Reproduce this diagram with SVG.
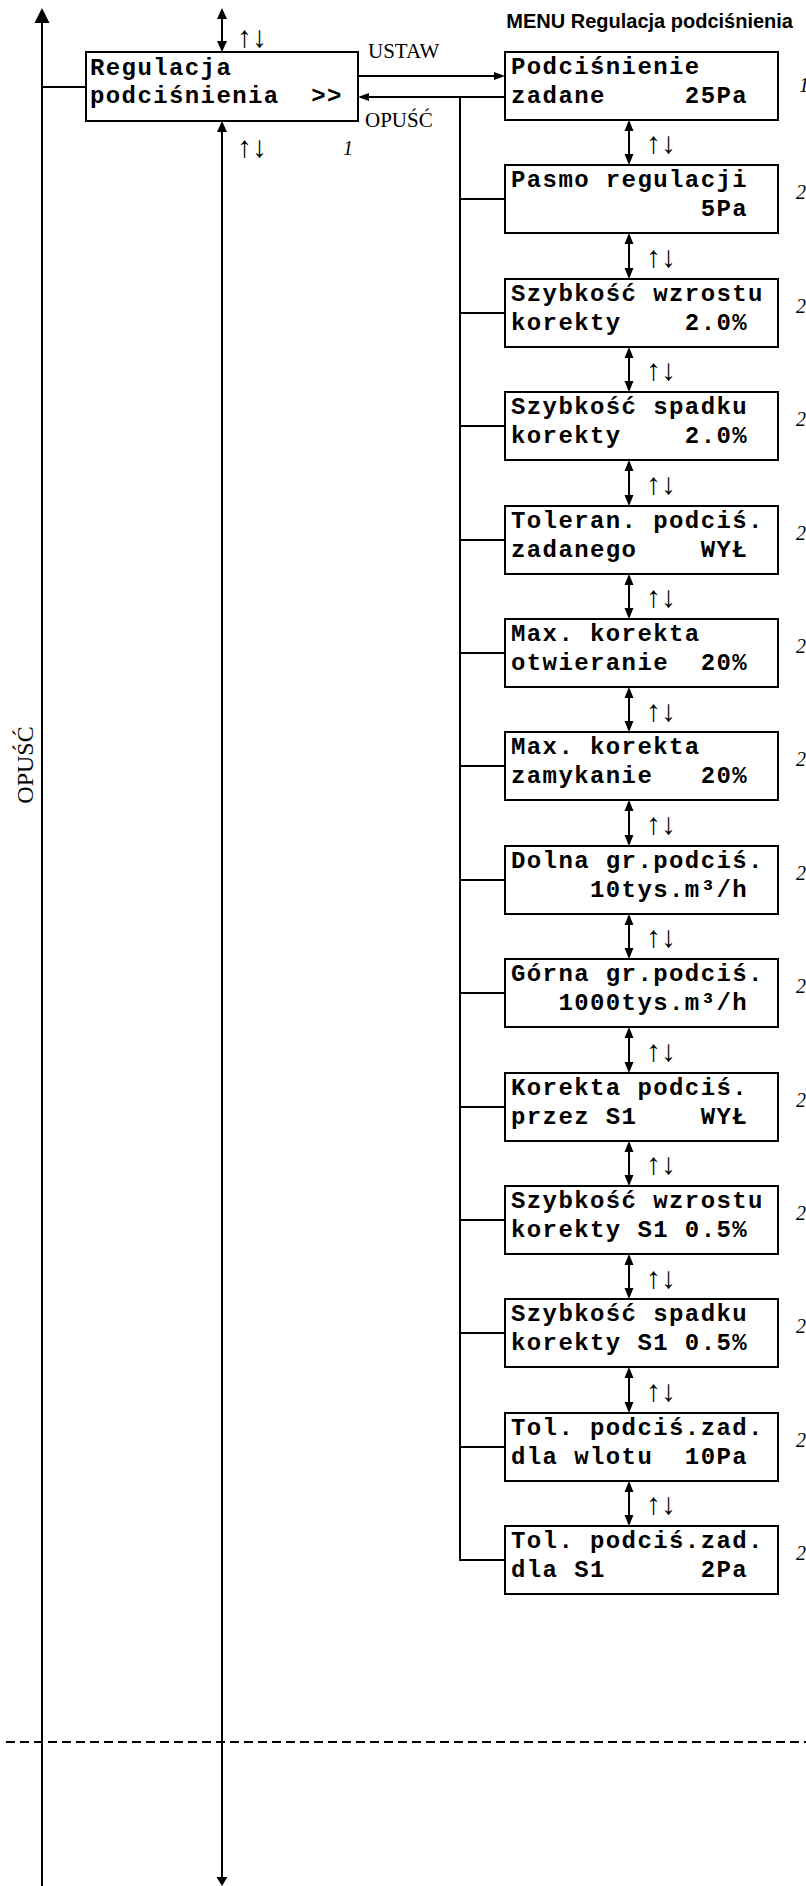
<svg xmlns="http://www.w3.org/2000/svg" width="806" height="1886" viewBox="0 0 806 1886">
<style>
.box{fill:#fff;stroke:#000;stroke-width:2}
.mono{font-family:"Liberation Mono","Courier New",monospace;font-weight:bold;font-size:24px;letter-spacing:1.4px;white-space:pre;fill:#000}
.ln{stroke:#000;stroke-width:2;fill:none}
.dash{stroke:#000;stroke-width:2;fill:none;stroke-dasharray:9 5}
.ah{fill:#000}
.lbl{font-family:"Liberation Serif","Times New Roman",serif;font-size:21px;fill:#000}
.vlbl{font-family:"Liberation Serif","Times New Roman",serif;font-size:24px;fill:#000}
.arr{font-family:"Liberation Serif","DejaVu Serif",serif;font-size:30px;fill:#000}
.num{font-family:"Liberation Serif","Times New Roman",serif;font-style:italic;font-size:20px;fill:#000}
.title{font-family:"Liberation Sans",Arial,sans-serif;font-weight:bold;font-size:20px;fill:#000}
</style>
<text class="title" x="793" y="28" text-anchor="end">MENU Regulacja podciśnienia</text>
<g id="connectors">
<path class="ln" d="M42,20 V1886"/>
<polygon class="ah" points="34.5,23 49.5,23 42,8"/>
<path class="ln" d="M42,87 H86"/>
<path class="ln" d="M222,18 V42"/>
<polygon class="ah" points="217,19 227,19 222,8"/>
<polygon class="ah" points="217,41 227,41 222,52"/>
<path class="ln" d="M222,131 V1878"/>
<polygon class="ah" points="217,132 227,132 222,121"/>
<polygon class="ah" points="216.5,1877 227.5,1877 222,1886"/>
<path class="ln" d="M358,76 H495"/>
<polygon class="ah" points="494,72 494,80 505,76"/>
<path class="ln" d="M505,97 H368"/>
<polygon class="ah" points="369,93 369,101 358,97"/>
<path class="ln" d="M460,97 V1560 H505"/>
<path class="ln" d="M460,199 H505 M460,313 H505 M460,426 H505 M460,540 H505 M460,653 H505 M460,766 H505 M460,880 H505 M460,993 H505 M460,1107 H505 M460,1220 H505 M460,1333 H505 M460,1447 H505"/>
<path class="ln" d="M629,130 V155 M629,243 V269 M629,357 V382 M629,470 V496 M629,584 V609 M629,697 V722 M629,810 V836 M629,924 V949 M629,1037 V1063 M629,1151 V1176 M629,1264 V1289 M629,1377 V1403 M629,1491 V1516"/>
<g class="ah">
<polygon points="624.5,131 633.5,131 629,120"/><polygon points="624.5,154 633.5,154 629,165"/>
<polygon points="624.5,244 633.5,244 629,233"/><polygon points="624.5,268 633.5,268 629,279"/>
<polygon points="624.5,358 633.5,358 629,347"/><polygon points="624.5,381 633.5,381 629,392"/>
<polygon points="624.5,471 633.5,471 629,460"/><polygon points="624.5,495 633.5,495 629,506"/>
<polygon points="624.5,585 633.5,585 629,574"/><polygon points="624.5,608 633.5,608 629,619"/>
<polygon points="624.5,698 633.5,698 629,687"/><polygon points="624.5,721 633.5,721 629,732"/>
<polygon points="624.5,811 633.5,811 629,800"/><polygon points="624.5,835 633.5,835 629,846"/>
<polygon points="624.5,925 633.5,925 629,914"/><polygon points="624.5,948 633.5,948 629,959"/>
<polygon points="624.5,1038 633.5,1038 629,1027"/><polygon points="624.5,1062 633.5,1062 629,1073"/>
<polygon points="624.5,1152 633.5,1152 629,1141"/><polygon points="624.5,1175 633.5,1175 629,1186"/>
<polygon points="624.5,1265 633.5,1265 629,1254"/><polygon points="624.5,1288 633.5,1288 629,1299"/>
<polygon points="624.5,1378 633.5,1378 629,1367"/><polygon points="624.5,1402 633.5,1402 629,1413"/>
<polygon points="624.5,1492 633.5,1492 629,1481"/><polygon points="624.5,1515 633.5,1515 629,1526"/>
</g>
<path class="dash" d="M6,1742 H806"/>
<text class="lbl" x="368" y="58">USTAW</text>
<text class="lbl" x="365" y="127">OPUŚĆ</text>
<text class="vlbl" transform="translate(33,765) rotate(-90)" text-anchor="middle">OPUŚĆ</text>
<g class="arr">
<text x="237" y="47">↑↓</text>
<text x="237" y="157">↑↓</text>
<text x="646" y="153">↑↓</text>
<text x="646" y="267">↑↓</text>
<text x="646" y="380">↑↓</text>
<text x="646" y="494">↑↓</text>
<text x="646" y="607">↑↓</text>
<text x="646" y="721">↑↓</text>
<text x="646" y="834">↑↓</text>
<text x="646" y="947">↑↓</text>
<text x="646" y="1061">↑↓</text>
<text x="646" y="1174">↑↓</text>
<text x="646" y="1288">↑↓</text>
<text x="646" y="1401">↑↓</text>
<text x="646" y="1514">↑↓</text>
</g>
<g class="num">
<text x="343" y="155">1</text>
<text x="799" y="92">1</text>
<text x="796" y="199">2</text>
<text x="796" y="313">2</text>
<text x="796" y="426">2</text>
<text x="796" y="540">2</text>
<text x="796" y="653">2</text>
<text x="796" y="766">2</text>
<text x="796" y="880">2</text>
<text x="796" y="993">2</text>
<text x="796" y="1107">2</text>
<text x="796" y="1220">2</text>
<text x="796" y="1333">2</text>
<text x="796" y="1447">2</text>
<text x="796" y="1560">2</text>
</g>
</g>
<g id="main" transform="translate(86,52)"><rect class="box" width="272" height="69"/><text class="mono" x="4" y="23">Regulacja</text><text class="mono" x="4" y="51">podciśnienia  &gt;&gt;</text></g>
<g id="n0" transform="translate(505,52)"><rect class="box" width="273" height="68"/><text class="mono" x="6" y="22">Podciśnienie</text><text class="mono" x="6" y="51">zadane     25Pa</text></g>
<g id="n1" transform="translate(505,165)"><rect class="box" width="273" height="68"/><text class="mono" x="6" y="22">Pasmo regulacji</text><text class="mono" x="6" y="51">            5Pa</text></g>
<g id="n2" transform="translate(505,279)"><rect class="box" width="273" height="68"/><text class="mono" x="6" y="22">Szybkość wzrostu</text><text class="mono" x="6" y="51">korekty    2.0%</text></g>
<g id="n3" transform="translate(505,392)"><rect class="box" width="273" height="68"/><text class="mono" x="6" y="22">Szybkość spadku</text><text class="mono" x="6" y="51">korekty    2.0%</text></g>
<g id="n4" transform="translate(505,506)"><rect class="box" width="273" height="68"/><text class="mono" x="6" y="22">Toleran. podciś.</text><text class="mono" x="6" y="51">zadanego    WYŁ</text></g>
<g id="n5" transform="translate(505,619)"><rect class="box" width="273" height="68"/><text class="mono" x="6" y="22">Max. korekta</text><text class="mono" x="6" y="51">otwieranie  20%</text></g>
<g id="n6" transform="translate(505,732)"><rect class="box" width="273" height="68"/><text class="mono" x="6" y="22">Max. korekta</text><text class="mono" x="6" y="51">zamykanie   20%</text></g>
<g id="n7" transform="translate(505,846)"><rect class="box" width="273" height="68"/><text class="mono" x="6" y="22">Dolna gr.podciś.</text><text class="mono" x="6" y="51">     10tys.m³/h</text></g>
<g id="n8" transform="translate(505,959)"><rect class="box" width="273" height="68"/><text class="mono" x="6" y="22">Górna gr.podciś.</text><text class="mono" x="6" y="51">   1000tys.m³/h</text></g>
<g id="n9" transform="translate(505,1073)"><rect class="box" width="273" height="68"/><text class="mono" x="6" y="22">Korekta podciś.</text><text class="mono" x="6" y="51">przez S1    WYŁ</text></g>
<g id="n10" transform="translate(505,1186)"><rect class="box" width="273" height="68"/><text class="mono" x="6" y="22">Szybkość wzrostu</text><text class="mono" x="6" y="51">korekty S1 0.5%</text></g>
<g id="n11" transform="translate(505,1299)"><rect class="box" width="273" height="68"/><text class="mono" x="6" y="22">Szybkość spadku</text><text class="mono" x="6" y="51">korekty S1 0.5%</text></g>
<g id="n12" transform="translate(505,1413)"><rect class="box" width="273" height="68"/><text class="mono" x="6" y="22">Tol. podciś.zad.</text><text class="mono" x="6" y="51">dla wlotu  10Pa</text></g>
<g id="n13" transform="translate(505,1526)"><rect class="box" width="273" height="68"/><text class="mono" x="6" y="22">Tol. podciś.zad.</text><text class="mono" x="6" y="51">dla S1      2Pa</text></g>
</svg>
